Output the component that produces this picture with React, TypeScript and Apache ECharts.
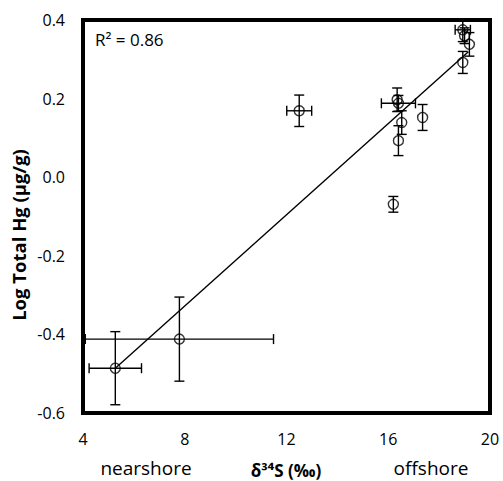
import React, { useEffect, useRef } from "react";
import * as echarts from "echarts";

// δ34S (‰) and Log Total Hg values
const pointX = [5.27, 7.79, 12.5, 16.35, 16.4, 16.53, 16.4, 16.2, 17.35, 18.93, 19.0, 19.19, 18.93];
const pointY = [-0.486, -0.412, 0.169, 0.197, 0.188, 0.139, 0.093, -0.069, 0.152, 0.375, 0.36, 0.338, 0.292];
const errX = [1.03, 3.7, 0.49, 0, 0.67, 0, 0, 0, 0, 0.3, 0, 0, 0];
const errY = [0.093, 0.107, 0.04, 0.03, 0.02, 0.03, 0.038, 0.02, 0.033, 0.03, 0.02, 0.03, 0.028];
const trendX = [5.27, 19.15];
const trendY = [-0.486, 0.319];
const xTicks = { min: 4, max: 20, interval: 4 };
const yTicks = { min: -0.6, max: 0.4, interval: 0.2 };
const rSquaredText = "R\u00B2 = 0.86";

const FONT = "'Open Sans', sans-serif";

export default function App() {
  const ref = useRef<HTMLDivElement>(null);
  useEffect(() => {
    if (!ref.current) return;
    const chart = echarts.init(ref.current, null, { renderer: "svg" });
    const points = pointX.map((x, i) => [x, pointY[i]]);
    const errData = pointX.map((x, i) => [x, pointY[i], errX[i], errY[i]]);
    const trend = trendX.map((x, i) => [x, trendY[i]]);
    const cap = 5;
    const lineStyle = { stroke: "#000", lineWidth: 1.4 };
    chart.setOption({
      animation: false,
      backgroundColor: "#fff",
      grid: {
        left: 83,
        top: 20,
        width: 407,
        height: 393,
        show: true,
        borderColor: "#000",
        borderWidth: 4,
        backgroundColor: "transparent",
      },
      xAxis: {
        type: "value",
        min: xTicks.min,
        max: xTicks.max,
        interval: xTicks.interval,
        splitLine: { show: false },
        axisLine: { show: false },
        axisTick: { show: false },
        axisLabel: { color: "#000", fontSize: 16, fontFamily: FONT, margin: 18 },
      },
      yAxis: {
        type: "value",
        min: yTicks.min,
        max: yTicks.max,
        interval: yTicks.interval,
        splitLine: { show: false },
        axisLine: { show: false },
        axisTick: { show: false },
        axisLabel: {
          color: "#000",
          fontSize: 16,
          fontFamily: FONT,
          margin: 18,
          formatter: (v: number) => v.toFixed(1),
        },
      },
      series: [
        {
          type: "line",
          data: trend,
          symbol: "none",
          lineStyle: { color: "#000", width: 1.4 },
          z: 2,
        },
        {
          type: "custom",
          data: errData,
          clip: true,
          z: 3,
          renderItem: (params: any, api: any) => {
            const x = api.value(0);
            const y = api.value(1);
            const ex = api.value(2);
            const ey = api.value(3);
            const children: any[] = [];
            if (ey > 0) {
              const top = api.coord([x, y + ey]);
              const bot = api.coord([x, y - ey]);
              children.push(
                { type: "line", shape: { x1: top[0], y1: top[1], x2: bot[0], y2: bot[1] }, style: lineStyle },
                { type: "line", shape: { x1: top[0] - cap, y1: top[1], x2: top[0] + cap, y2: top[1] }, style: lineStyle },
                { type: "line", shape: { x1: bot[0] - cap, y1: bot[1], x2: bot[0] + cap, y2: bot[1] }, style: lineStyle }
              );
            }
            if (ex > 0) {
              const l = api.coord([x - ex, y]);
              const r = api.coord([x + ex, y]);
              children.push(
                { type: "line", shape: { x1: l[0], y1: l[1], x2: r[0], y2: r[1] }, style: lineStyle },
                { type: "line", shape: { x1: l[0], y1: l[1] - cap, x2: l[0], y2: l[1] + cap }, style: lineStyle },
                { type: "line", shape: { x1: r[0], y1: r[1] - cap, x2: r[0], y2: r[1] + cap }, style: lineStyle }
              );
            }
            return { type: "group", children };
          },
        },
        {
          type: "scatter",
          data: points,
          symbol: "circle",
          symbolSize: 10,
          itemStyle: { color: "rgba(255,255,255,0)", borderColor: "#000", borderWidth: 1.4 },
          z: 4,
        },
      ],
      graphic: [
        {
          type: "text",
          left: 95,
          top: 31,
          style: { text: rSquaredText, fontSize: 17, fontFamily: FONT, fill: "#000" },
        },
        {
          type: "text",
          x: 146,
          y: 468,
          style: {
            text: "nearshore",
            fontSize: 19,
            fontFamily: FONT,
            fill: "#000",
            align: "center",
            verticalAlign: "middle",
          },
        },
        {
          type: "text",
          x: 431,
          y: 468,
          style: {
            text: "offshore",
            fontSize: 19,
            fontFamily: FONT,
            fill: "#000",
            align: "center",
            verticalAlign: "middle",
          },
        },
        {
          type: "text",
          x: 286,
          y: 470,
          style: {
            text: "\u03B4\u00B3\u2074S (\u2030)",
            fontSize: 17,
            fontWeight: "bold",
            fontFamily: FONT,
            fill: "#000",
            align: "center",
            verticalAlign: "middle",
          },
        },
        {
          type: "text",
          x: 18,
          y: 235,
          rotation: Math.PI / 2,
          style: {
            text: "Log Total Hg (\u00B5g/g)",
            fontSize: 18.5,
            fontWeight: "bold",
            fontFamily: FONT,
            fill: "#000",
            align: "center",
            verticalAlign: "middle",
          },
        },
      ],
    });
    return () => chart.dispose();
  }, []);
  return (
    <div
      ref={ref}
      style={{ position: "fixed", left: 0, top: 0, width: 503, height: 481 }}
    />
  );
}
